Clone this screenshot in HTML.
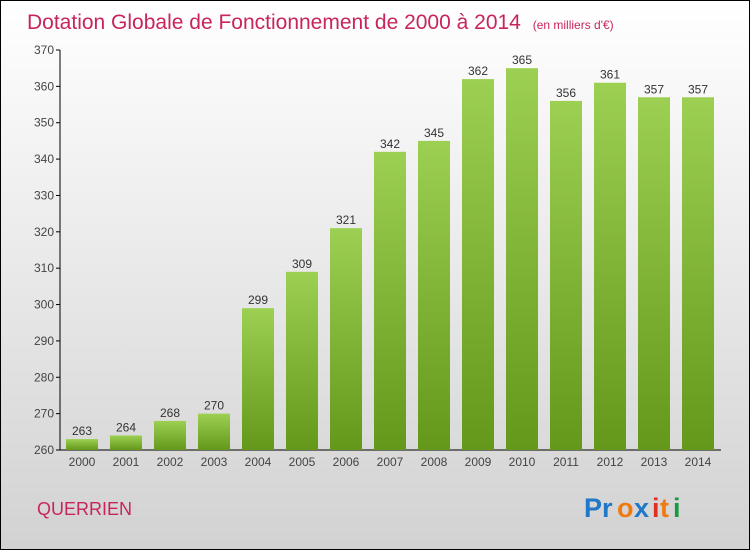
<!DOCTYPE html>
<html><head><meta charset="utf-8"><style>
html,body{margin:0;padding:0}
body{width:750px;height:550px;overflow:hidden;font-family:"Liberation Sans",sans-serif}
#wrap{position:absolute;left:0;top:0;width:748px;height:548px;border:1px solid #000;background:linear-gradient(#ffffff,#d2d2d2)}
</style></head><body>
<div id="wrap">
<svg id="c" width="748" height="548" xmlns="http://www.w3.org/2000/svg">
<defs><linearGradient id="g" x1="0" y1="0" x2="0" y2="1"><stop offset="0" stop-color="#9dd052"/><stop offset="1" stop-color="#64981a"/></linearGradient></defs>
<text x="26" y="28" font-size="21" fill="#c8265a">Dotation Globale de Fonctionnement de 2000 à 2014 <tspan font-size="12" dx="6">(en milliers d'€)</tspan></text>
<text x="36" y="514" font-size="18" fill="#c8265a">QUERRIEN</text>
<g font-size="27" font-weight="bold">
<text x="583" y="516" fill="#1f78c8">Pr</text><text x="616" y="516" fill="#f07a10">o</text><text x="633" y="516" fill="#1f78c8">x</text><text x="651" y="516" fill="#e03020">i</text><text x="659" y="516" fill="#f07a10">t</text><text x="672" y="516" fill="#1a9a40">i</text>
</g>
<g id="plot"></g>
</svg></div>
<script>
const years=["2000","2001","2002","2003","2004","2005","2006","2007","2008","2009","2010","2011","2012","2013","2014"];
const values=[263,264,268,270,299,309,321,342,345,362,365,356,361,357,357];
const ticks=[260,270,280,290,300,310,320,330,340,350,360,370];
const NS="http://www.w3.org/2000/svg";
const p=document.getElementById('plot');
const y=v=>449-(v-260)*400/110;
const x=i=>81+i*44;
function mk(t,a){const e=document.createElementNS(NS,t);for(const k in a)e.setAttribute(k,a[k]);p.appendChild(e);return e;}
let ax=mk('line',{x1:59,y1:49,x2:59,y2:449,stroke:'#000'});


let bx=mk('line',{x1:59,y1:449,x2:720,y2:449,stroke:'#000'});


ticks.forEach(t=>{
 let l=mk('line',{x1:55,y1:y(t),x2:59,y2:y(t),stroke:'#000'});
 
 
 let tx=mk('text',{x:53,y:y(t)+4,'text-anchor':'end','font-size':12,fill:'#444'});
 tx.textContent=t;
 
 
});
years.forEach((yr,i)=>{
 const v=values[i];
 let r=mk('rect',{x:x(i)-16,y:y(v),width:32,height:449-y(v),fill:'url(#g)'});
 
 
 let vl=mk('text',{x:x(i),y:y(v)-4,'text-anchor':'middle','font-size':12,fill:'#333'});
 vl.textContent=v;
 
 
 let xl=mk('text',{x:x(i),y:465,'text-anchor':'middle','font-size':12,fill:'#444'});
 xl.textContent=yr;
 
 
});
</script>
</body></html>
